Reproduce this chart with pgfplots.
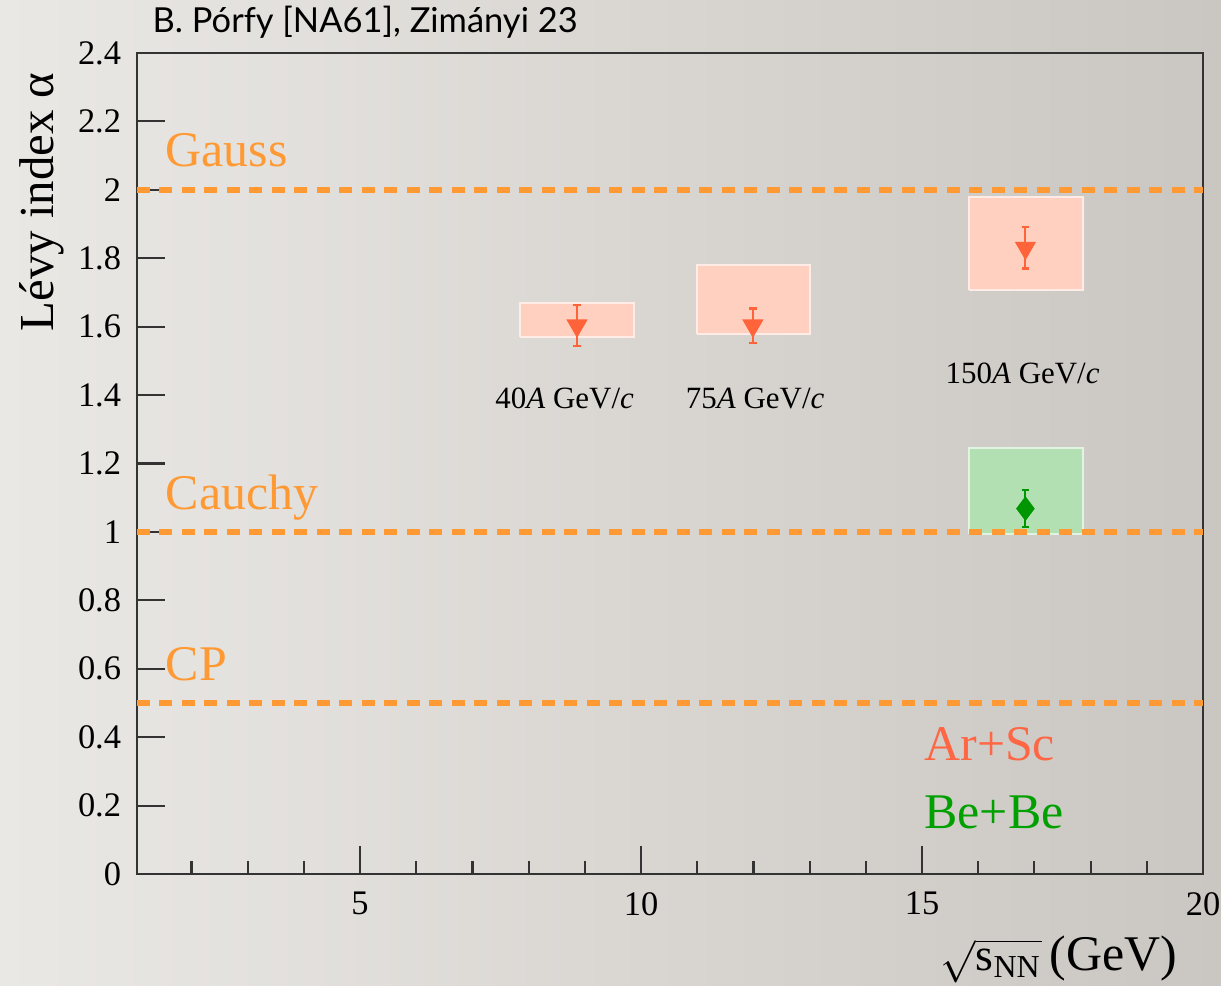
\documentclass[border=0pt]{standalone}
\usepackage{fontspec}
\setmainfont{Liberation Serif}
\newfontfamily\titlefont{Lato}
\newfontfamily\tnr{Liberation Serif}
\usepackage{pgfplots}
\pgfplotsset{compat=1.18}

\definecolor{bgl}{RGB}{234,232,229}
\definecolor{bgr}{RGB}{202,198,193}
\definecolor{lineor}{RGB}{255,153,51}
\definecolor{arbox}{RGB}{255,208,192}
\definecolor{arcol}{RGB}{255,99,58}
\definecolor{artext}{RGB}{255,102,68}
\definecolor{bebox}{RGB}{179,224,179}
\definecolor{becol}{RGB}{0,150,0}
\definecolor{betext}{RGB}{0,160,0}

\newcommand{\fs}[1]{\fontsize{#1}{1.2\dimexpr#1pt\relax}\selectfont}

\begin{document}
\begin{tikzpicture}[x=1mm,y=1mm]
\useasboundingbox (0,0) rectangle (122.1,98.6);
\shade[left color=bgl, right color=bgr] (0,0) rectangle (122.1,98.6);

\begin{axis}[
    at={(13.7mm,11.2mm)}, anchor=south west,
    scale only axis,
    width=106.6mm, height=82.1mm,
    xmin=1.03, xmax=20,
    ymin=0, ymax=2.4,
    axis line style={draw=black!80, line width=0.7pt},
    xtick={5,10,15,20},
    xticklabels={5,10,15,20},
    minor xtick={2,3,4,6,7,8,9,11,12,13,14,16,17,18,19},
    ytick={0,0.2,0.4,0.6,0.8,1,1.2,1.4,1.6,1.8,2,2.2,2.4},
    yticklabels={0,0.2,0.4,0.6,0.8,1,1.2,1.4,1.6,1.8,2,2.2,2.4},
    xtick pos=bottom, ytick pos=left,
    tick align=inside,
    major tick length=8pt, minor tick length=3.8pt,
    tick style={draw=black!80, line width=0.6pt},
    yticklabel style={font=\tnr\fs{9.8}, xshift=-1pt},
    xticklabel style={font=\tnr\fs{9.8}, yshift=-4pt, inner sep=1pt},
]

% systematic boxes
\addplot[fill=arbox, draw=white!60!arbox, line width=0.6pt] coordinates {
    (7.84,1.571) (9.87,1.571) (9.87,1.670) (7.84,1.670) (7.84,1.571)};
\addplot[fill=arbox, draw=white!60!arbox, line width=0.6pt] coordinates {
    (10.99,1.579) (13.00,1.579) (13.00,1.781) (10.99,1.781) (10.99,1.579)};
\addplot[fill=arbox, draw=white!60!arbox, line width=0.6pt] coordinates {
    (15.84,1.708) (17.86,1.708) (17.86,1.979) (15.84,1.979) (15.84,1.708)};
\addplot[fill=bebox, draw=white!60!bebox, line width=0.6pt] coordinates {
    (15.84,0.994) (17.86,0.994) (17.86,1.244) (15.84,1.244) (15.84,0.994)};

% reference lines
\addplot[lineor, line width=1.7pt, dash pattern=on 3.7pt off 2.7pt] coordinates {(1.03,2) (20,2)};
\addplot[lineor, line width=1.7pt, dash pattern=on 3.7pt off 2.7pt] coordinates {(1.03,1) (20,1)};
\addplot[lineor, line width=1.7pt, dash pattern=on 3.7pt off 2.7pt] coordinates {(1.03,0.5) (20,0.5)};

% Ar+Sc
\addplot[arcol, only marks, mark=triangle*, mark size=3.1pt,
    mark options={rotate=180, fill=arcol, draw=arcol},
    error bars/.cd, y dir=both, y explicit,
    error bar style={line width=0.6pt, arcol},
    error mark options={rotate=90, mark size=1.1pt, line width=0.6pt, arcol}]
    coordinates {
    (8.86,1.603) +- (0,0.059)
    (11.99,1.603) +- (0,0.050)
    (16.84,1.830) +- (0,0.060)
};
% Be+Be
\addplot[becol, only marks, mark=diamond*, mark size=3.2pt,
    mark options={fill=becol, draw=becol},
    error bars/.cd, y dir=both, y explicit,
    error bar style={line width=0.6pt, becol},
    error mark options={rotate=90, mark size=1.1pt, line width=0.6pt, becol}]
    coordinates {
    (16.84,1.068) +- (0,0.055)
};

\node[anchor=base west, text=lineor, font=\fs{14.2}, inner sep=0pt] at (axis cs:1.53,2.067) {Gauss};
\node[anchor=base west, text=lineor, font=\fs{14.2}, inner sep=0pt] at (axis cs:1.53,1.064) {Cauchy};
\node[anchor=base west, text=lineor, font=\fs{14.2}, inner sep=0pt] at (axis cs:1.53,0.567) {CP};
\node[anchor=base west, text=artext, font=\fs{14.2}, inner sep=0pt] at (axis cs:15.03,0.331) {Ar+Sc};
\node[anchor=base west, text=betext, font=\fs{14.2}, inner sep=0pt] at (axis cs:15.03,0.132) {Be+Be};

\node[anchor=base, font=\fs{8.8}, inner sep=0pt] at (axis cs:8.64,1.360) {40\textit{A} GeV/\textit{c}};
\node[anchor=base, font=\fs{8.8}, inner sep=0pt] at (axis cs:12.03,1.360) {75\textit{A} GeV/\textit{c}};
\node[anchor=base, font=\fs{8.8}, inner sep=0pt] at (axis cs:16.79,1.433) {150\textit{A} GeV/\textit{c}};
\end{axis}

\node[anchor=base west, font=\titlefont\fs{9.8}, inner sep=0pt] at (15.2,95.3) {B. Pórfy [NA61], Zimányi 23};
\node[rotate=90, anchor=base, font=\fs{13.9}, inner sep=0pt] at (5.3,78.4) {Lévy index α};
\node[anchor=base east, font=\fs{14.2}, inner sep=0pt] at (117.8,1.5) {{\fs{13}$\sqrt{\mathrm{s}_{\mathrm{NN}}}$}\,(GeV)};
\end{tikzpicture}
\end{document}
